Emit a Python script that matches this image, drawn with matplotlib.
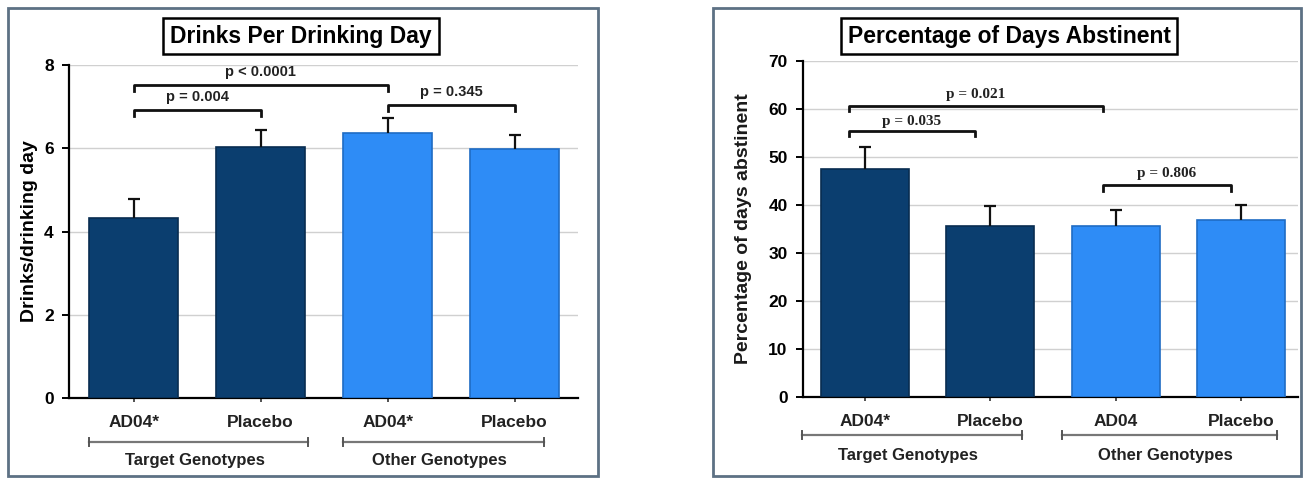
import numpy as np
import matplotlib
matplotlib.use("Agg")
import matplotlib.pyplot as plt
from matplotlib.patches import Rectangle
from matplotlib.transforms import blended_transform_factory

plt.rcParams["font.family"] = ["Liberation Sans", "DejaVu Sans"]

W, H = 1304, 479

# data
labels_left = ["AD04*", "Placebo", "AD04*", "Placebo"]
labels_right = ["AD04*", "Placebo", "AD04", "Placebo"]
groups = ["Target Genotypes", "Other Genotypes"]

dpdd_mean = [4.33, 6.03, 6.37, 5.99]
dpdd_err = [0.45, 0.41, 0.36, 0.33]

pda_mean = [47.4, 35.7, 35.7, 36.8]
pda_err = [4.6, 4.0, 3.2, 3.3]

# brackets: (x0, x1, y, text height, text)
dpdd_pvals = [(0.0, 2.0, 7.52, 7.82, "p < 0.0001"),
              (0.0, 1.0, 6.92, 7.22, "p = 0.004"),
              (2.0, 3.0, 7.04, 7.34, "p = 0.345")]
pda_pvals = [(-0.13, 1.9, 60.6, 63.0, "p = 0.021"),
             (-0.13, 0.88, 55.4, 57.4, "p = 0.035"),
             (1.9, 2.92, 44.1, 46.6, "p = 0.806")]

DARK = "#0b3e6f"
LIGHT = "#2e8cf6"
colors = [DARK, DARK, LIGHT, LIGHT]
edges = ["#082c50", "#082c50", "#1f6cc4", "#1f6cc4"]


def px_axes(fig, x0, y_top, x1, y_bot):
    return fig.add_axes([x0 / W, (H - y_bot) / H, (x1 - x0) / W, (y_bot - y_top) / H])


def draw_panel(ax, means, errs, ticklabels, ymax, ystep, xlim, pvals, pfont,
               tick_drop, grp_spans, grp_y, lab_y):
    x = np.arange(len(means))
    ax.bar(x, means, width=0.7, color=colors, edgecolor=edges, linewidth=1.2, zorder=3)
    eb = ax.errorbar(x, means, yerr=[np.zeros(len(errs)), errs], fmt="none",
                     ecolor="#111111", elinewidth=1.6, capsize=4, capthick=1.6, zorder=4)
    eb[1][0].set_visible(False)  # only the upper cap
    ax.set_xlim(*xlim)
    ax.set_ylim(0, ymax)
    ax.set_yticks(np.arange(0, ymax + 0.01, ystep))
    ax.set_xticks(x)
    ax.set_xticklabels(ticklabels, fontsize=12.5, fontweight="bold")
    for t in ax.get_yticklabels():
        t.set_fontsize(12.5)
        t.set_fontweight("bold")
    ax.grid(axis="y", color="#d0d0d0", lw=1)
    ax.set_axisbelow(True)
    for s in ["top", "right"]:
        ax.spines[s].set_visible(False)
    ax.spines["left"].set_linewidth(1.6)
    ax.spines["bottom"].set_linewidth(1.6)
    ax.tick_params(axis="y", length=5, width=1.4, pad=6)
    ax.tick_params(axis="x", length=3, width=1.2, pad=9, colors="#333333",
                   labelcolor="#222222")

    for x0, x1, y, ty, txt in pvals:
        ax.plot([x0, x0, x1, x1], [y - tick_drop, y, y, y - tick_drop],
                color="#111111", lw=2, clip_on=False, zorder=5)
        ax.text((x0 + x1) / 2, ty, txt, ha="center", va="center", zorder=5, **pfont)

    tr = blended_transform_factory(ax.transData, ax.transAxes)
    for (g0, g1), name in zip(grp_spans, groups):
        ax.plot([g0, g1], [grp_y, grp_y], color="#777777", lw=1.6,
                transform=tr, clip_on=False)
        for gx in (g0, g1):
            ax.plot([gx, gx], [grp_y - 0.012, grp_y + 0.012], color="#555555",
                    lw=1.4, transform=tr, clip_on=False)
        ax.text((g0 + g1) / 2 - 0.03, lab_y, name, transform=tr, ha="center",
                va="center", fontsize=12, fontweight="bold", color="#222222")


fig = plt.figure(figsize=(W / 100, H / 100), dpi=100)

# panel frames
for fx0, fx1 in [(8, 598), (713, 1301)]:
    fig.patches.append(Rectangle((fx0 / W, (H - 476) / H), (fx1 - fx0) / W, 468 / H,
                                 transform=fig.transFigure, fill=False,
                                 edgecolor="#5d7184", lw=2))

# left panel
axL = px_axes(fig, 69, 65, 578, 398)
draw_panel(axL, dpdd_mean, dpdd_err, labels_left, 8, 2, (-0.51, 3.5),
           dpdd_pvals, dict(fontsize=10.5, fontweight="bold", color="#222222"),
           0.14, [(-0.35, 1.37), (1.65, 3.23)], -0.132, -0.188)
axL.set_ylabel("Drinks/drinking day", fontsize=14, fontweight="bold", labelpad=4)

# right panel
axR = px_axes(fig, 803, 61, 1298, 397)
draw_panel(axR, pda_mean, pda_err, labels_right, 70, 10, (-0.495, 3.455),
           pda_pvals, dict(fontsize=11, fontweight="bold", color="#222222",
                           family="Liberation Serif"),
           1.1, [(-0.5, 1.25), (1.57, 3.29)], -0.113, -0.173)
axR.set_ylabel("Percentage of days abstinent", fontsize=14, fontweight="bold",
               labelpad=12, color="#1a1a1a")

# titles in boxes
fig.text(301 / W, 1 - 36 / H, "Drinks Per Drinking Day", ha="center", va="center",
         fontsize=16.5, fontweight="bold",
         bbox=dict(boxstyle="square,pad=0.3", fc="white", ec="black", lw=1.8))
fig.text(1009 / W, 1 - 36 / H, "Percentage of Days Abstinent", ha="center",
         va="center", fontsize=16.5, fontweight="bold",
         bbox=dict(boxstyle="square,pad=0.3", fc="white", ec="black", lw=1.8))

fig.savefig("out.png", dpi=100)
